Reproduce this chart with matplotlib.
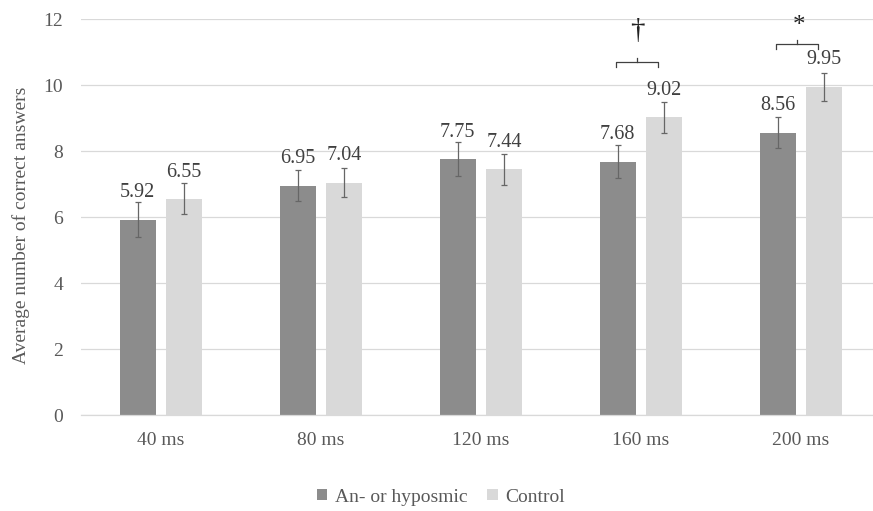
import numpy as np
import matplotlib.pyplot as plt

plt.rcParams['font.family'] = ['Liberation Serif', 'DejaVu Serif']

# data
categories = ["40 ms", "80 ms", "120 ms", "160 ms", "200 ms"]
hyposmic = [5.92, 6.95, 7.75, 7.68, 8.56]
control = [6.55, 7.04, 7.44, 9.02, 9.95]
hyposmic_err = [0.52, 0.47, 0.51, 0.50, 0.46]
control_err = [0.47, 0.44, 0.47, 0.47, 0.42]
series_names = ["An- or hyposmic", "Control"]
# significance marks: (category index, symbol)
marks = [(3, "\u2020"), (4, "*")]

dark = "#8c8c8c"
light = "#d9d9d9"
txt = "#595959"

fig = plt.figure(figsize=(8.73, 5.11), dpi=100)
ax = fig.add_axes([81 / 873, 96 / 511, 792 / 873, 396 / 511])

x = np.arange(len(categories))
w = 0.225
off = 0.145

ax.bar(x - off, hyposmic, w, color=dark, label=series_names[0], zorder=2)
ax.bar(x + off, control, w, color=light, label=series_names[1], zorder=2)
ax.errorbar(x - off, hyposmic, yerr=hyposmic_err, fmt="none", ecolor="#666666",
            elinewidth=0.9, capsize=2.5, capthick=0.9, zorder=3)
ax.errorbar(x + off, control, yerr=control_err, fmt="none", ecolor="#666666",
            elinewidth=0.9, capsize=2.5, capthick=0.9, zorder=3)

for xs, vals in ((x - off, hyposmic), (x + off, control)):
    for xi, v in zip(xs, vals):
        ax.annotate(f"{v:.2f}", (xi, v), xytext=(0, 16), textcoords="offset points",
                    ha="center", va="baseline", fontsize=14.5, color="#404040")

# brackets for significance
for i, sym in marks:
    top = max(hyposmic[i] + hyposmic_err[i], control[i] + control_err[i])
    yb = top + 1.2 if i == 3 else top + 0.86
    x0, x1 = i - 0.155, i + 0.105
    xm = (x0 + x1) / 2
    ax.plot([x0, x0, x1, x1], [yb - 0.14, yb, yb, yb - 0.14], color="#404040", lw=0.9,
            clip_on=False)
    ax.plot([xm, xm], [yb, yb + 0.14], color="#404040", lw=0.9, clip_on=False)
    if sym == "*":
        ax.text(xm + 0.01, yb + 0.55, sym, ha="center", va="center", fontsize=18,
                color="#222222")
    else:
        ax.text(xm, yb + 0.95, sym, ha="center", va="center", fontsize=21,
                color="#222222")

ax.set_xlim(-0.5, 4.45)
ax.set_ylim(0, 12)
ax.set_yticks(range(0, 13, 2))
ax.set_xticks(x)
ax.set_xticklabels(categories)
ax.tick_params(length=0, labelsize=14, labelcolor=txt)
ax.tick_params(axis="x", pad=12)
ax.tick_params(axis="y", pad=13)
ax.grid(axis="y", color=light, lw=0.9, zorder=0)
for s in ["top", "right", "left"]:
    ax.spines[s].set_visible(False)
ax.spines["bottom"].set_color(light)
ax.spines["bottom"].set_linewidth(0.9)

fig.text(21 / 873, 1 - 225 / 511, "Average number of correct answers", rotation=90,
         ha="center", va="center", fontsize=14, color=txt)

leg = fig.legend(loc="center", bbox_to_anchor=(0.505, 1 - 497 / 511), ncol=2, frameon=False,
                 fontsize=14, handlelength=0.55, handleheight=0.55, handletextpad=0.4,
                 columnspacing=1.0)
for t in leg.get_texts():
    t.set_color(txt)

fig.savefig("out.png", dpi=100)
